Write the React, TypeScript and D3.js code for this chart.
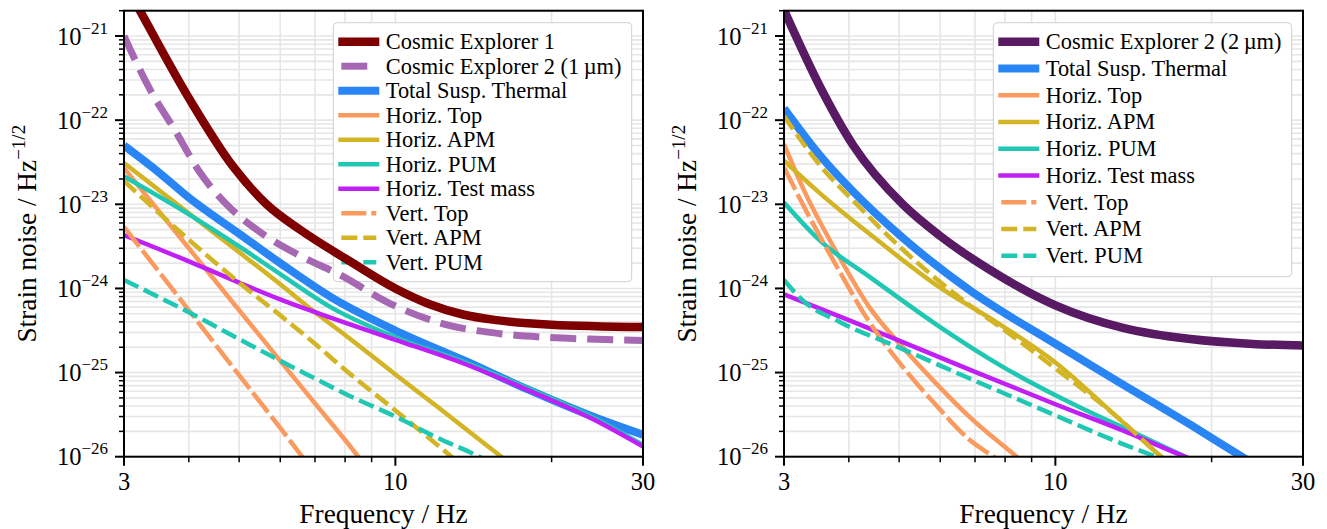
import React from 'react';
import * as d3 from 'd3';

type Pt = [number, number];

// ---------- axis ticks ----------
const X_MAJOR = [3, 10, 30];
const X_MAJOR_LABELS = ['3', '10', '30'];
const X_MINOR = [4, 5, 6, 7, 8, 9, 20];
const Y_DECADES = [-26, -25, -24, -23, -22, -21];
const Y_DOMAIN: [number, number] = [1e-26, 2e-21];

// ---------- left panel data: [frequency Hz, strain / sqrt(Hz)] ----------
const leftCE1: Pt[] = [[3, 4.4e-21], [3.22, 2.0e-21], [4.02, 1.74e-22], [4.87, 2.8e-23], [5.65, 1.0e-23], [6.55, 5.0e-24], [8.18, 2.1e-24], [10, 1.0e-24], [11.64, 6.5e-25], [13.5, 4.9e-25], [15.66, 4.2e-25], [20, 3.7e-25], [30, 3.47e-25]];
const leftCE2: Pt[] = [[3, 1.0e-21], [3.37, 2.29e-22], [3.76, 7.6e-23], [4.2, 2.4e-23], [4.8, 9.1e-24], [5.48, 4.7e-24], [6.55, 2.45e-24], [7.82, 1.45e-24], [9.77, 6.6e-25], [12.36, 3.8e-25], [15.9, 2.9e-25], [19.4, 2.63e-25], [23.6, 2.5e-25], [30, 2.4e-25]];
const leftTotal: Pt[] = [[3, 5.0e-23], [3.5, 2.4e-23], [4, 1.2e-23], [5, 4.47e-24], [6, 2.0e-24], [7.5, 7.94e-25], [10, 3.16e-25], [13.5, 1.41e-25], [18, 6.3e-26], [24, 3.0e-26], [30, 1.82e-26]];
const leftHTop: Pt[] = [[3, 2.7e-23], [4, 3.0e-24], [5, 5.5e-25], [6, 1.38e-25], [7, 4.3e-26], [8, 1.58e-26], [9, 6.3e-27]];
const leftHAPM: Pt[] = [[3, 3.1e-23], [4, 7.8e-24], [5, 2.7e-24], [6, 1.12e-24], [7, 5.2e-25], [8, 2.8e-25], [10, 9.5e-26], [12, 4.0e-26], [14, 1.9e-26], [16, 1.0e-26], [18, 5.6e-27]];
const leftHPUM: Pt[] = [[3, 2.14e-23], [4, 7.6e-24], [5, 3.16e-24], [6, 1.48e-24], [7.5, 6.0e-25], [10, 2.63e-25], [13.5, 1.35e-25], [18, 6.5e-26], [24, 2.95e-26], [30, 1.38e-26]];
const leftHTM: Pt[] = [[3, 4.3e-24], [4, 2.1e-24], [5, 1.17e-24], [6, 7.4e-25], [7.5, 4.5e-25], [10, 2.45e-25], [13.5, 1.29e-25], [18, 6.2e-26], [24, 2.8e-26], [30, 1.32e-26]];
const leftVTop: Pt[] = [[3, 5.4e-24], [4, 5.5e-25], [5, 9.3e-26], [6, 2.2e-26], [7, 6.3e-27]];
const leftVAPM: Pt[] = [[3, 1.9e-23], [3.5, 7.9e-24], [4, 3.8e-24], [5, 1.17e-24], [6, 4.8e-25], [7, 2.2e-25], [8, 1.08e-25], [10, 3.55e-26], [12, 1.41e-26], [14, 6.3e-27]];
const leftVPUM: Pt[] = [[3, 1.26e-24], [4, 5.2e-25], [5, 2.5e-25], [6, 1.38e-25], [7, 8.5e-26], [8, 5.6e-26], [10, 3.0e-26], [12, 1.7e-26], [14.5, 1.0e-26], [16, 7.2e-27]];

// ---------- right panel data ----------
const rightCE2: Pt[] = [[3, 2.04e-21], [3.52, 2.5e-22], [4.08, 5.0e-23], [5.08, 1.0e-23], [6, 4.2e-24], [7.48, 1.66e-24], [10, 6.3e-25], [13.5, 3.4e-25], [18.2, 2.5e-25], [24, 2.19e-25], [30, 2.1e-25]];
const rightTotal: Pt[] = [[3, 1.38e-22], [3.52, 3.8e-23], [4.08, 1.41e-23], [5.08, 4.0e-24], [6.84, 9.5e-25], [10, 2.2e-25], [13.5, 7.2e-26], [18.2, 2.4e-26], [22.3, 1.1e-26], [25, 7.1e-27]];
const rightHTop: Pt[] = [[3, 5.2e-23], [3.26, 1.58e-23], [3.8, 2.6e-24], [4.38, 6.0e-25], [5.08, 2.0e-25], [5.87, 7.6e-26], [6.84, 2.95e-26], [8.42, 1.0e-26], [9, 7.1e-27]];
const rightHAPM: Pt[] = [[3, 3.3e-23], [3.52, 1.35e-23], [4.38, 4.47e-24], [5.87, 1.12e-24], [7.92, 3.55e-25], [10, 1.32e-25], [13, 3.16e-26], [16, 1.0e-26], [18, 5.6e-27]];
const rightHPUM: Pt[] = [[3, 1.05e-23], [3.52, 3.7e-24], [4.38, 1.38e-24], [5.87, 3.8e-25], [7.92, 1.17e-25], [10.67, 4.4e-26], [14, 2.0e-26], [17.8, 1.0e-26], [20, 7.1e-27]];
const rightHTM: Pt[] = [[3, 8.5e-25], [4, 4.2e-25], [5, 2.4e-25], [7, 1.02e-25], [10, 4.2e-26], [14, 1.86e-26], [17, 1.12e-26], [20, 7.4e-27]];
const rightVTop: Pt[] = [[3, 2.75e-23], [3.26, 1.0e-23], [3.8, 1.78e-24], [4.38, 4.0e-25], [5.08, 1.17e-25], [5.87, 4.2e-26], [6.84, 1.58e-26], [7.6, 1.0e-26], [8.2, 7.1e-27]];
const rightVAPM: Pt[] = [[3, 1.12e-22], [3.52, 2.9e-23], [4.08, 1.1e-23], [5.08, 2.9e-24], [6.84, 6.3e-25], [7.92, 3.3e-25], [10, 1.12e-25], [13, 3.16e-26], [16, 1.0e-26], [18, 5.6e-27]];
const rightVPUM: Pt[] = [[3, 1.26e-24], [3.26, 7.2e-25], [3.84, 4.0e-25], [5.08, 1.9e-25], [6.84, 8.5e-26], [10, 3.1e-26], [13.5, 1.41e-26], [15.6, 1.0e-26], [17, 7.9e-27]];

// ---------- styles ----------
const C_CE1 = '#7f0000';
const C_CE2A = '#a668b2';
const C_CE2B = '#581b63';
const C_TOTAL = '#2a85f4';
const C_TOP = '#fa9a5f';
const C_APM = '#d2b424';
const C_PUM = '#20c7b2';
const C_TM = '#c01ff5';

type Series = { label: string; color: string; width: number; dash?: string; pts: Pt[] };

const leftSeries: Series[] = [
  { label: 'Cosmic Explorer 1', color: C_CE1, width: 8.5, pts: leftCE1 },
  { label: 'Cosmic Explorer 2 (1\u2009\u00b5m)', color: C_CE2A, width: 7, dash: '26,11', pts: leftCE2 },
  { label: 'Total Susp. Thermal', color: C_TOTAL, width: 8, pts: leftTotal },
  { label: 'Horiz. Top', color: C_TOP, width: 4.5, pts: leftHTop },
  { label: 'Horiz. APM', color: C_APM, width: 4.5, pts: leftHAPM },
  { label: 'Horiz. PUM', color: C_PUM, width: 4.5, pts: leftHPUM },
  { label: 'Horiz. Test mass', color: C_TM, width: 4.5, pts: leftHTM },
  { label: 'Vert. Top', color: C_TOP, width: 4.5, dash: '25,5', pts: leftVTop },
  { label: 'Vert. APM', color: C_APM, width: 4.5, dash: '16,6', pts: leftVAPM },
  { label: 'Vert. PUM', color: C_PUM, width: 4.5, dash: '16,6', pts: leftVPUM },
];

const rightSeries: Series[] = [
  { label: 'Cosmic Explorer 2 (2\u2009\u00b5m)', color: C_CE2B, width: 8.5, pts: rightCE2 },
  { label: 'Total Susp. Thermal', color: C_TOTAL, width: 8, pts: rightTotal },
  { label: 'Horiz. Top', color: C_TOP, width: 4.5, pts: rightHTop },
  { label: 'Horiz. APM', color: C_APM, width: 4.5, pts: rightHAPM },
  { label: 'Horiz. PUM', color: C_PUM, width: 4.5, pts: rightHPUM },
  { label: 'Horiz. Test mass', color: C_TM, width: 4.5, pts: rightHTM },
  { label: 'Vert. Top', color: C_TOP, width: 4.5, dash: '25,5', pts: rightVTop },
  { label: 'Vert. APM', color: C_APM, width: 4.5, dash: '16,6', pts: rightVAPM },
  { label: 'Vert. PUM', color: C_PUM, width: 4.5, dash: '16,6', pts: rightVPUM },
];

const FONT = "'Liberation Serif', 'DejaVu Serif', serif";
const Y_TOP = 10.7;
const Y_BOT = 456.7;

type PanelProps = {
  id: string;
  x0: number;
  x1: number;
  series: Series[];
  legend: { x: number; y: number; w: number; h: number; row0: number; pitch: number };
};

function Panel({ id, x0, x1, series, legend }: PanelProps) {
  const x = d3.scaleLog().domain([3, 30]).range([x0, x1]);
  const y = d3.scaleLog().domain(Y_DOMAIN).range([Y_BOT, Y_TOP]);
  const line = d3
    .line<Pt>()
    .x((d) => x(d[0]))
    .y((d) => y(d[1]))
    .curve(d3.curveMonotoneX);

  const yMinor: number[] = [];
  Y_DECADES.forEach((k) => {
    for (let m = 2; m <= 9; m++) {
      const v = m * Math.pow(10, k);
      if (v <= Y_DOMAIN[1] * 1.0001) yMinor.push(v);
    }
  });
  const gridCol = '#e6e6e6';
  const cx = (x0 + x1) / 2;
  const cy = (Y_TOP + Y_BOT) / 2;
  const hx0 = legend.x + 8;
  const hx1 = legend.x + 43;
  const tx = legend.x + 52.5;

  return (
    <g>
      <defs>
        <clipPath id={id}>
          <rect x={x0} y={Y_TOP} width={x1 - x0} height={Y_BOT - Y_TOP} />
        </clipPath>
      </defs>
      <g stroke={gridCol} strokeWidth={1.6}>
        {[...X_MAJOR, ...X_MINOR].map((f) => (
          <line key={'gx' + f} x1={x(f)} x2={x(f)} y1={Y_TOP} y2={Y_BOT} />
        ))}
        {[...Y_DECADES.map((k) => Math.pow(10, k)), ...yMinor].map((v, i) => (
          <line key={'gy' + i} x1={x0} x2={x1} y1={y(v)} y2={y(v)} />
        ))}
      </g>
      <rect x={legend.x} y={legend.y} width={legend.w} height={legend.h} rx={4} fill="#fff" stroke="#cfcfcf" strokeWidth={1} />
      {series.map((s, i) => {
        const cyy = legend.row0 + i * legend.pitch;
        return (
          <g key={'lg' + i}>
            <line
              x1={s.dash ? hx0 : hx0 - 3}
              x2={s.dash ? hx1 : hx1 + 3}
              y1={cyy}
              y2={cyy}
              stroke={s.color}
              strokeWidth={s.width}
              strokeDasharray={s.dash}
            />
            <text x={tx} y={cyy + 7.3} fontSize={22.4} fontFamily={FONT} fill="#000">
              {s.label}
            </text>
          </g>
        );
      })}
      <g clipPath={`url(#${id})`} fill="none">
        {series.map((s, i) => (
          <path key={'ln' + i} d={line(s.pts) || ''} stroke={s.color} strokeWidth={s.width} strokeDasharray={s.dash} strokeLinejoin="round" />
        ))}
      </g>
      <rect x={x0} y={Y_TOP} width={x1 - x0} height={Y_BOT - Y_TOP} fill="none" stroke="#000" strokeWidth={2} />
      <g stroke="#000">
        {Y_DECADES.map((k) => (
          <line key={'yt' + k} x1={x0 - 9} x2={x0} y1={y(Math.pow(10, k))} y2={y(Math.pow(10, k))} strokeWidth={2} />
        ))}
        {yMinor.map((v, i) => (
          <line key={'ym' + i} x1={x0 - 5} x2={x0} y1={y(v)} y2={y(v)} strokeWidth={1.5} />
        ))}
        {X_MAJOR.map((f) => (
          <line key={'xt' + f} x1={x(f)} x2={x(f)} y1={Y_BOT} y2={Y_BOT + 9} strokeWidth={2} />
        ))}
        {X_MINOR.map((f) => (
          <line key={'xm' + f} x1={x(f)} x2={x(f)} y1={Y_BOT} y2={Y_BOT + 5.5} strokeWidth={1.5} />
        ))}
      </g>
      <g fontFamily={FONT} fill="#000">
        {Y_DECADES.map((k) => (
          <text key={'yl' + k} x={x0 - 16} y={y(Math.pow(10, k)) + 8.5} textAnchor="end" fontSize={24.5} fontFamily={FONT}>
            10
            <tspan dy={-11} fontSize={17}>
              {'\u2212' + String(-k)}
            </tspan>
          </text>
        ))}
        {X_MAJOR.map((f, i) => (
          <text key={'xl' + f} x={x(f)} y={490} textAnchor="middle" fontSize={24.5} fontFamily={FONT}>
            {X_MAJOR_LABELS[i]}
          </text>
        ))}
        <text x={cx} y={523} textAnchor="middle" fontSize={27.3} fontFamily={FONT}>
          Frequency / Hz
        </text>
        <text transform={`translate(${x0 - 88},${cy}) rotate(-90)`} textAnchor="middle" fontSize={27.3} fontFamily={FONT}>
          Strain noise / Hz
          <tspan dy={-11} fontSize={19}>
            {'\u22121/2'}
          </tspan>
        </text>
      </g>
    </g>
  );
}

export default function App() {
  return (
    <svg
      width={1327}
      height={529}
      viewBox="0 0 1327 529"
      style={{ position: 'absolute', left: 0, top: 0, background: '#fff' }}
    >
      <rect x={0} y={0} width={1327} height={529} fill="#fff" />
      <Panel
        id="clipL"
        x0={124}
        x1={643}
        series={leftSeries}
        legend={{ x: 333.3, y: 22.7, w: 298.4, h: 259, row0: 41.7, pitch: 24.5 }}
      />
      <Panel
        id="clipR"
        x0={784}
        x1={1303}
        series={rightSeries}
        legend={{ x: 993.3, y: 22.7, w: 298.4, h: 254, row0: 41.7, pitch: 26.75 }}
      />
    </svg>
  );
}
